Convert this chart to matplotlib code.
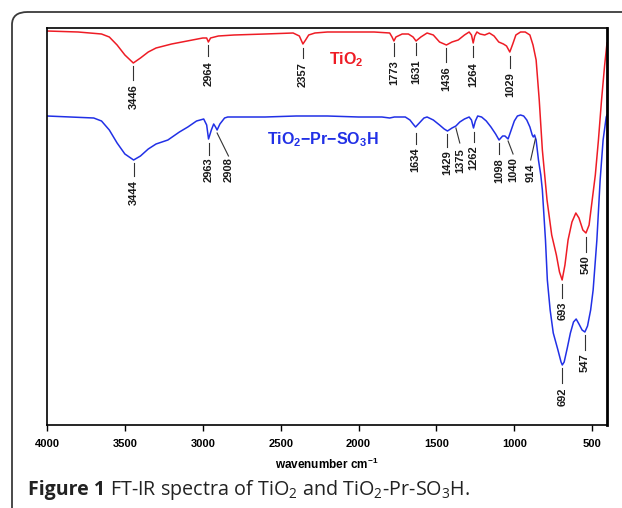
import matplotlib
matplotlib.use('Agg')
import matplotlib.pyplot as plt
from matplotlib.patches import FancyBboxPatch

plt.rcParams['font.family'] = ['Liberation Sans', 'DejaVu Sans']

# spectra: wavenumber (cm-1) and band depth (0 = top of plot, grows downwards)
tio2_wn = [4000, 3800, 3650, 3600, 3550, 3500, 3446, 3400, 3350, 3300, 3200, 3100, 3000, 2975,
           2964, 2950, 2900, 2800, 2600, 2420, 2380, 2357, 2340, 2320, 2280, 2200, 1900, 1800,
           1785, 1773, 1760, 1720, 1680, 1650, 1631, 1600, 1560, 1520, 1480, 1436, 1400, 1360,
           1320, 1290, 1275, 1264, 1254, 1240, 1220, 1190, 1160, 1130, 1100, 1070, 1050, 1029,
           1010, 990, 960, 930, 900, 880, 860, 840, 820, 790, 760, 730, 710, 693, 675, 655, 630,
           605, 585, 560, 540, 520, 500, 480, 460, 440, 420, 405]
tio2_depth = [31, 32, 34, 37, 45, 55, 63, 58, 52, 48, 44, 41, 38, 38,
              42, 38, 36, 35, 34, 33, 36, 44, 40, 35, 33, 32, 32, 33,
              37, 41, 37, 34, 34, 37, 41, 37, 33, 35, 42, 45, 42, 40,
              35, 32, 35, 43, 36, 32, 34, 35, 33, 36, 42, 44, 46, 52,
              44, 35, 32, 32, 35, 45, 60, 100, 150, 200, 235, 255, 272, 280, 265, 240, 222,
              213, 218, 230, 233, 225, 200, 175, 140, 100, 65, 43]

sulf_wn = [4000, 3850, 3700, 3650, 3600, 3550, 3500, 3444, 3400, 3350, 3300, 3224, 3150, 3096,
           3040, 2994, 2975, 2963, 2945, 2930, 2918, 2908, 2890, 2860, 2840, 2600, 2400, 2200,
           2000, 1850, 1800, 1770, 1700, 1670, 1650, 1634, 1610, 1580, 1560, 1520, 1480, 1450,
           1429, 1400, 1375, 1350, 1320, 1290, 1275, 1262, 1250, 1235, 1210, 1180, 1150, 1120,
           1098, 1075, 1060, 1040, 1020, 1000, 980, 960, 940, 920, 900, 885, 878, 870, 860, 845,
           830, 820, 800, 788, 770, 750, 720, 700, 692, 680, 660, 640, 620, 603, 585, 565, 547,
           530, 510, 494, 470, 449, 430, 410, 405]
sulf_depth = [116, 117, 118, 121, 130, 143, 154, 160, 156, 149, 144, 140, 132, 127,
              121, 119, 125, 139, 130, 124, 127, 130, 124, 118, 117, 117, 116, 116,
              117, 117, 118, 117, 117, 120, 124, 127, 123, 118, 117, 120, 125, 129,
              131, 128, 126, 122, 119, 117, 120, 128, 121, 116, 117, 121, 127, 134,
              140, 136, 136, 139, 130, 121, 116, 115, 116, 120, 127, 135, 137, 135, 140, 160,
              175, 190, 240, 280, 310, 333, 350, 362, 365, 362, 348, 333, 322, 319, 324, 330, 332,
              326, 310, 290, 240, 180, 140, 117, 115]

# peak labels: text, wavenumber at curve, wavenumber at text, line top, line bottom, text top
tio2_peaks = [('3446', 3446, 3446, 66, 80, 84), ('2964', 2964, 2964, 45, 56, 61),
              ('2357', 2357, 2357, 48, 58, 62), ('1773', 1773, 1773, 43, 56, 60),
              ('1631', 1631, 1631, 43, 55, 60), ('1436', 1436, 1436, 48, 62, 66),
              ('1264', 1264, 1264, 46, 57, 62), ('1029', 1029, 1029, 56, 68, 72),
              ('693', 693, 693, 284, 298, 302), ('540', 540, 540, 237, 252, 255)]
sulf_peaks = [('3444', 3444, 3444, 163, 176, 180), ('2963', 2963, 2963, 143, 155, 157),
              ('2908', 2908, 2835, 133, 156, 157), ('1634', 1634, 1634, 133, 144, 147),
              ('1429', 1429, 1429, 134, 147, 150), ('1375', 1375, 1350, 128, 143, 148),
              ('1262', 1262, 1262, 132, 142, 145), ('1098', 1098, 1098, 143, 154, 158),
              ('1040', 1040, 1008, 141, 154, 157), ('914', 865, 895, 139, 160, 163),
              ('692', 692, 692, 368, 383, 387), ('547', 547, 547, 335, 350, 353)]

red = '#ee1c25'
blue = '#2130e6'

fig = plt.figure(figsize=(6.22, 5.08), dpi=100)

# rounded frame around the figure (runs off the right and bottom edges)
frame = FancyBboxPatch((12 / 622, -0.2), 1.2, 1 - 12 / 508 + 0.2,
                       boxstyle='round,pad=0,rounding_size=0.025',
                       transform=fig.transFigure, fill=False, edgecolor='#3a3a3a',
                       linewidth=1.3, clip_on=False)
fig.patches.append(frame)

ax = fig.add_axes([47 / 622, 1 - 425 / 508, 560 / 622, 397 / 508])
ax.plot(tio2_wn, tio2_depth, color=red, lw=1.1)
ax.plot(sulf_wn, sulf_depth, color=blue, lw=1.1)

for peaks in (tio2_peaks, sulf_peaks):
    for label, wn0, wn1, y0, y1, ty in peaks:
        ax.plot([wn0, wn1], [y0, y1], color='#333333', lw=0.8)
        ax.text(wn1, ty, label, rotation=90, ha='center', va='top',
                fontsize=8, fontweight='bold', color='#1a1a1a')

ax.text(2080, 60, r'TiO$\mathregular{_2}$', color=red, fontsize=11.5, fontweight='bold',
        ha='center', va='center')
ax.text(2230, 140, r'TiO$\mathregular{_2}$−Pr−SO$\mathregular{_3}$H', color=blue,
        fontsize=11.5, fontweight='bold', ha='center', va='center')

ax.set_xlim(4000, 405)
ax.set_ylim(425, 28)
ax.set_xticks([4000, 3500, 3000, 2500, 2000, 1500, 1000, 500])
ax.set_yticks([])
ax.tick_params(axis='x', direction='out', length=4, width=1, labelsize=8, pad=6)
for lab in ax.get_xticklabels():
    lab.set_fontweight('bold')
ax.set_xlabel(r'wavenumber cm$\mathregular{^{-1}}$', fontsize=8.5, fontweight='bold', labelpad=6)
for side in ('left', 'bottom', 'top'):
    ax.spines[side].set_linewidth(1.2)
ax.spines['right'].set_linewidth(2.0)

# caption: bold figure number followed by the plain description
cap_y = 1 - 490 / 508
head = fig.text(28 / 622, cap_y, 'Figure 1', fontsize=14, fontweight='bold',
                family='Open Sans', va='center', ha='left', color='#222222')
fig.canvas.draw()
head_end = head.get_window_extent().x1 / fig.bbox.width
fig.text(head_end + 5 / 622, cap_y,
         r'FT-IR spectra of TiO$\mathregular{_2}$ and TiO$\mathregular{_2}$-Pr-SO$\mathregular{_3}$H.',
         fontsize=14.2, family='Open Sans', va='center', ha='left', color='#222222')

fig.savefig('out.png', dpi=100, facecolor='white')
